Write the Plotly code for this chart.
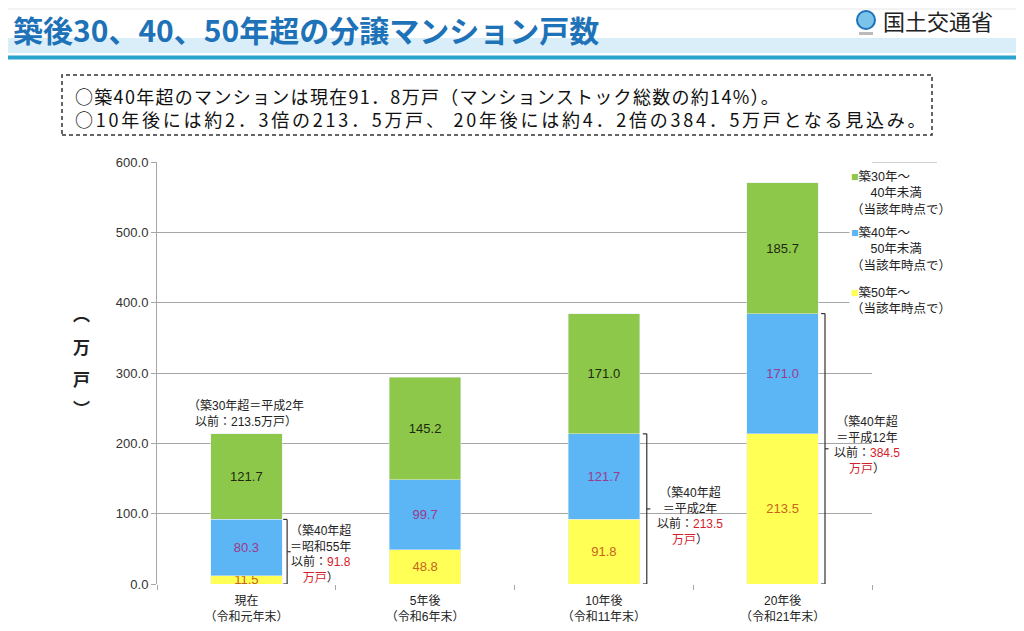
import plotly.graph_objects as go

# ---------------- data ----------------
categories = ["現在<br>（令和元年末）", "5年後<br>（令和6年末）", "10年後<br>（令和11年末）", "20年後<br>（令和21年末）"]
over50 = [11.5, 48.8, 91.8, 213.5]          # 築50年～
age40_50 = [80.3, 99.7, 121.7, 171.0]       # 築40年～50年未満
age30_40 = [121.7, 145.2, 171.0, 185.7]     # 築30年～40年未満
y_ticks = [0, 100, 200, 300, 400, 500, 600]
series_names = ["築50年～（当該年時点で）", "築40年～50年未満（当該年時点で）", "築30年～40年未満（当該年時点で）"]

x_pos = list(range(len(categories)))

# ---------------- style ----------------
GREEN = "#8DC84B"
BLUE = "#5CB5F5"
YELLOW = "#FFFF55"
FONT = "Liberation Sans, Arial, Noto Sans CJK JP, sans-serif"
JFONT = "Noto Sans CJK JP, sans-serif"

OFF = 8                     # page body margin
W, H = 1008, 615            # figure size
PL, PR, PT, PB = 157, 872, 162, 584   # plot area in page pixels


def px(x):
    return (x - PL) / (PR - PL)


def py(y):
    return (PB - y) / (PB - PT)


fig = go.Figure()
fig.add_trace(go.Bar(x=x_pos, y=over50, name=series_names[0], marker_color=YELLOW,
                     width=0.4, texttemplate="%{y:.1f}", textposition="inside",
                     insidetextanchor="middle",
                     textfont=dict(color="#C8641E", size=13, family=FONT), showlegend=False))
fig.add_trace(go.Bar(x=x_pos, y=age40_50, name=series_names[1], marker_color=BLUE,
                     width=0.4, texttemplate="%{y:.1f}", textposition="inside",
                     insidetextanchor="middle",
                     textfont=dict(color="#9C3A8C", size=13, family=FONT), showlegend=False))
fig.add_trace(go.Bar(x=x_pos, y=age30_40, name=series_names[2], marker_color=GREEN,
                     width=0.4, texttemplate="%{y:.1f}", textposition="inside",
                     insidetextanchor="middle",
                     textfont=dict(color="#1E2A10", size=13, family=FONT), showlegend=False))

shapes = []
annotations = []

# header
shapes.append(dict(type="rect", xref="paper", yref="paper", x0=px(0), x1=px(1030), y0=py(53), y1=py(38),
                   fillcolor="#D9EEF8", line_width=0, layer="below"))
shapes.append(dict(type="rect", xref="paper", yref="paper", x0=px(0), x1=px(1030), y0=py(59.5), y1=py(55.5),
                   fillcolor="#2AA3CF", line_width=0, layer="below"))
shapes.append(dict(type="line", xref="paper", yref="paper", x0=px(0), x1=px(1030), y0=py(9), y1=py(9),
                   line=dict(color="#E6E6E6", width=1)))
annotations.append(dict(xref="paper", yref="paper", x=px(11), y=py(29), xanchor="left", yanchor="middle",
                        text="<b>築後30、40、50年超の分譲マンション戸数</b>", showarrow=False,
                        font=dict(family=JFONT, size=30, color="#1D72B8")))
# logo
shapes.append(dict(type="circle", xref="paper", yref="paper", x0=px(857), x1=px(875), y0=py(29), y1=py(11),
                   fillcolor="#7CC3EA", line=dict(color="#1D72B8", width=2)))
shapes.append(dict(type="rect", xref="paper", yref="paper", x0=px(859), x1=px(873), y0=py(35), y1=py(32),
                   fillcolor="#BBBBBB", line_width=0))
annotations.append(dict(xref="paper", yref="paper", x=px(995), y=py(20), xanchor="right", yanchor="middle",
                        text="国土交通省", showarrow=False,
                        font=dict(family=JFONT, size=22, color="#222222")))

# dashed box with summary
shapes.append(dict(type="rect", xref="paper", yref="paper", x0=px(62), x1=px(932), y0=py(135), y1=py(75),
                   line=dict(color="#333333", width=1.5, dash="4px,3px"), fillcolor="rgba(0,0,0,0)"))
annotations.append(dict(xref="paper", yref="paper", x=px(73), y=py(107), xanchor="left", yanchor="middle",
                        align="left", showarrow=False,
                        text="<span style='letter-spacing:1.3px'>○築40年超のマンションは現在91．8万戸（マンションストック総数の約14%）。</span><br>"
                             "<span style='letter-spacing:2.75px'>○10年後には約2．3倍の213．5万戸、 20年後には約4．2倍の384．5万戸となる見込み。</span>",
                        font=dict(family=JFONT, size=18, color="#111111")))

# y axis title (vertical)
for ch, yy in zip(["︵", "万", "戸", "︶"], [313, 346, 378, 407]):
    annotations.append(dict(xref="paper", yref="paper", x=px(81), y=py(yy), xanchor="center", yanchor="middle",
                            text="<b>%s</b>" % ch, showarrow=False,
                            font=dict(family=JFONT, size=17, color="#222222")))

# top line extension above legend
shapes.append(dict(type="line", xref="paper", yref="y", x0=1, x1=px(937), y0=600, y1=600,
                   line=dict(color="#A6A6A6", width=1)))

# legend (drawn as text blocks)
leg = [
    (GREEN, "築30年～<br>　&nbsp;&nbsp;40年未満<br>（当該年時点で）", 193),
    (BLUE, "築40年～<br>　&nbsp;&nbsp;50年未満<br>（当該年時点で）", 249),
    (YELLOW, "築50年～<br>（当該年時点で）", 300),
]
for col, txt, yy in leg:
    t = "<span style='color:%s'>■</span>%s" % (col, txt)
    annotations.append(dict(xref="paper", yref="paper", x=px(849), y=py(yy), xanchor="left", yanchor="middle",
                            align="left", text=t, showarrow=False, bgcolor="white",
                            font=dict(family=FONT, size=12.5, color="#222222")))


# braces and notes
def bracket(xc, top, mid_len=0.02, arm=0.022):
    c = dict(color="#333333", width=1.2)
    out = [
        dict(type="line", xref="x", yref="y", x0=xc, x1=xc, y0=0, y1=top, line=c),
        dict(type="line", xref="x", yref="y", x0=xc - arm, x1=xc, y0=top, y1=top, line=c),
        dict(type="line", xref="x", yref="y", x0=xc - arm, x1=xc, y0=0, y1=0, line=c),
        dict(type="line", xref="x", yref="y", x0=xc, x1=xc + mid_len, y0=top / 2, y1=top / 2, line=c),
    ]
    return out


cum40 = [over50[i] + age40_50[i] for i in range(4)]
total = [cum40[i] + age30_40[i] for i in range(4)]

shapes += bracket(0.228, cum40[0])
shapes += bracket(2.24, cum40[2])
shapes += bracket(3.237, cum40[3])

RED = "#D4202A"
annotations.append(dict(x=0.0, y=total[0] + 4, xref="x", yref="y", yanchor="bottom", showarrow=False,
                        text="（築30年超＝平成2年<br>以前：%.1f万戸）" % total[0],
                        font=dict(family=FONT, size=12, color="#222222")))
annotations.append(dict(x=0.415, y=cum40[0] / 2 - 3, xref="x", yref="y", showarrow=False,
                        text="（築40年超<br>＝昭和55年<br>以前：<span style='color:%s'>%.1f</span><br>"
                             "<span style='color:%s'>万戸</span>）" % (RED, cum40[0], RED),
                        font=dict(family=FONT, size=12, color="#222222")))
annotations.append(dict(x=2.48, y=97, xref="x", yref="y", showarrow=False,
                        text="（築40年超<br>＝平成2年<br>以前：<span style='color:%s'>%.1f</span><br>"
                             "<span style='color:%s'>万戸</span>）" % (RED, cum40[2], RED),
                        font=dict(family=FONT, size=12, color="#222222")))
annotations.append(dict(x=3.47, y=198, xref="x", yref="y", showarrow=False,
                        text="（築40年超<br>＝平成12年<br>以前：<span style='color:%s'>%.1f</span><br>"
                             "<span style='color:%s'>万戸</span>）" % (RED, cum40[3], RED),
                        font=dict(family=FONT, size=12, color="#222222")))

fig.update_layout(
    width=W, height=H,
    margin=dict(l=PL - OFF, r=OFF + W - PR, t=PT - OFF, b=OFF + H - PB),
    paper_bgcolor="white", plot_bgcolor="white",
    barmode="stack", showlegend=False,
    uniformtext=dict(minsize=13, mode="show"),
    shapes=shapes, annotations=annotations,
    font=dict(family=FONT, size=12, color="#222222"),
)
fig.update_xaxes(range=[-0.5, 3.5], tickvals=x_pos, ticktext=categories, ticks="", showgrid=False,
                 zeroline=False, showline=False, tickfont=dict(size=12, color="#222222"),
                 ticklabelstandoff=8, automargin=False,
                 minor=dict(tickvals=[-0.5, 0.5, 1.5, 2.5, 3.5], ticks="outside", ticklen=5,
                            tickcolor="#A6A6A6", showgrid=False))
fig.update_yaxes(range=[0, 600], tickvals=y_ticks, tickformat=".1f", ticks="outside", ticklen=5,
                 tickcolor="#A6A6A6", showline=True, linecolor="#A6A6A6", gridcolor="#A6A6A6",
                 zeroline=False, automargin=False, tickfont=dict(size=13, color="#333333"))

fig.write_html("out.html")
